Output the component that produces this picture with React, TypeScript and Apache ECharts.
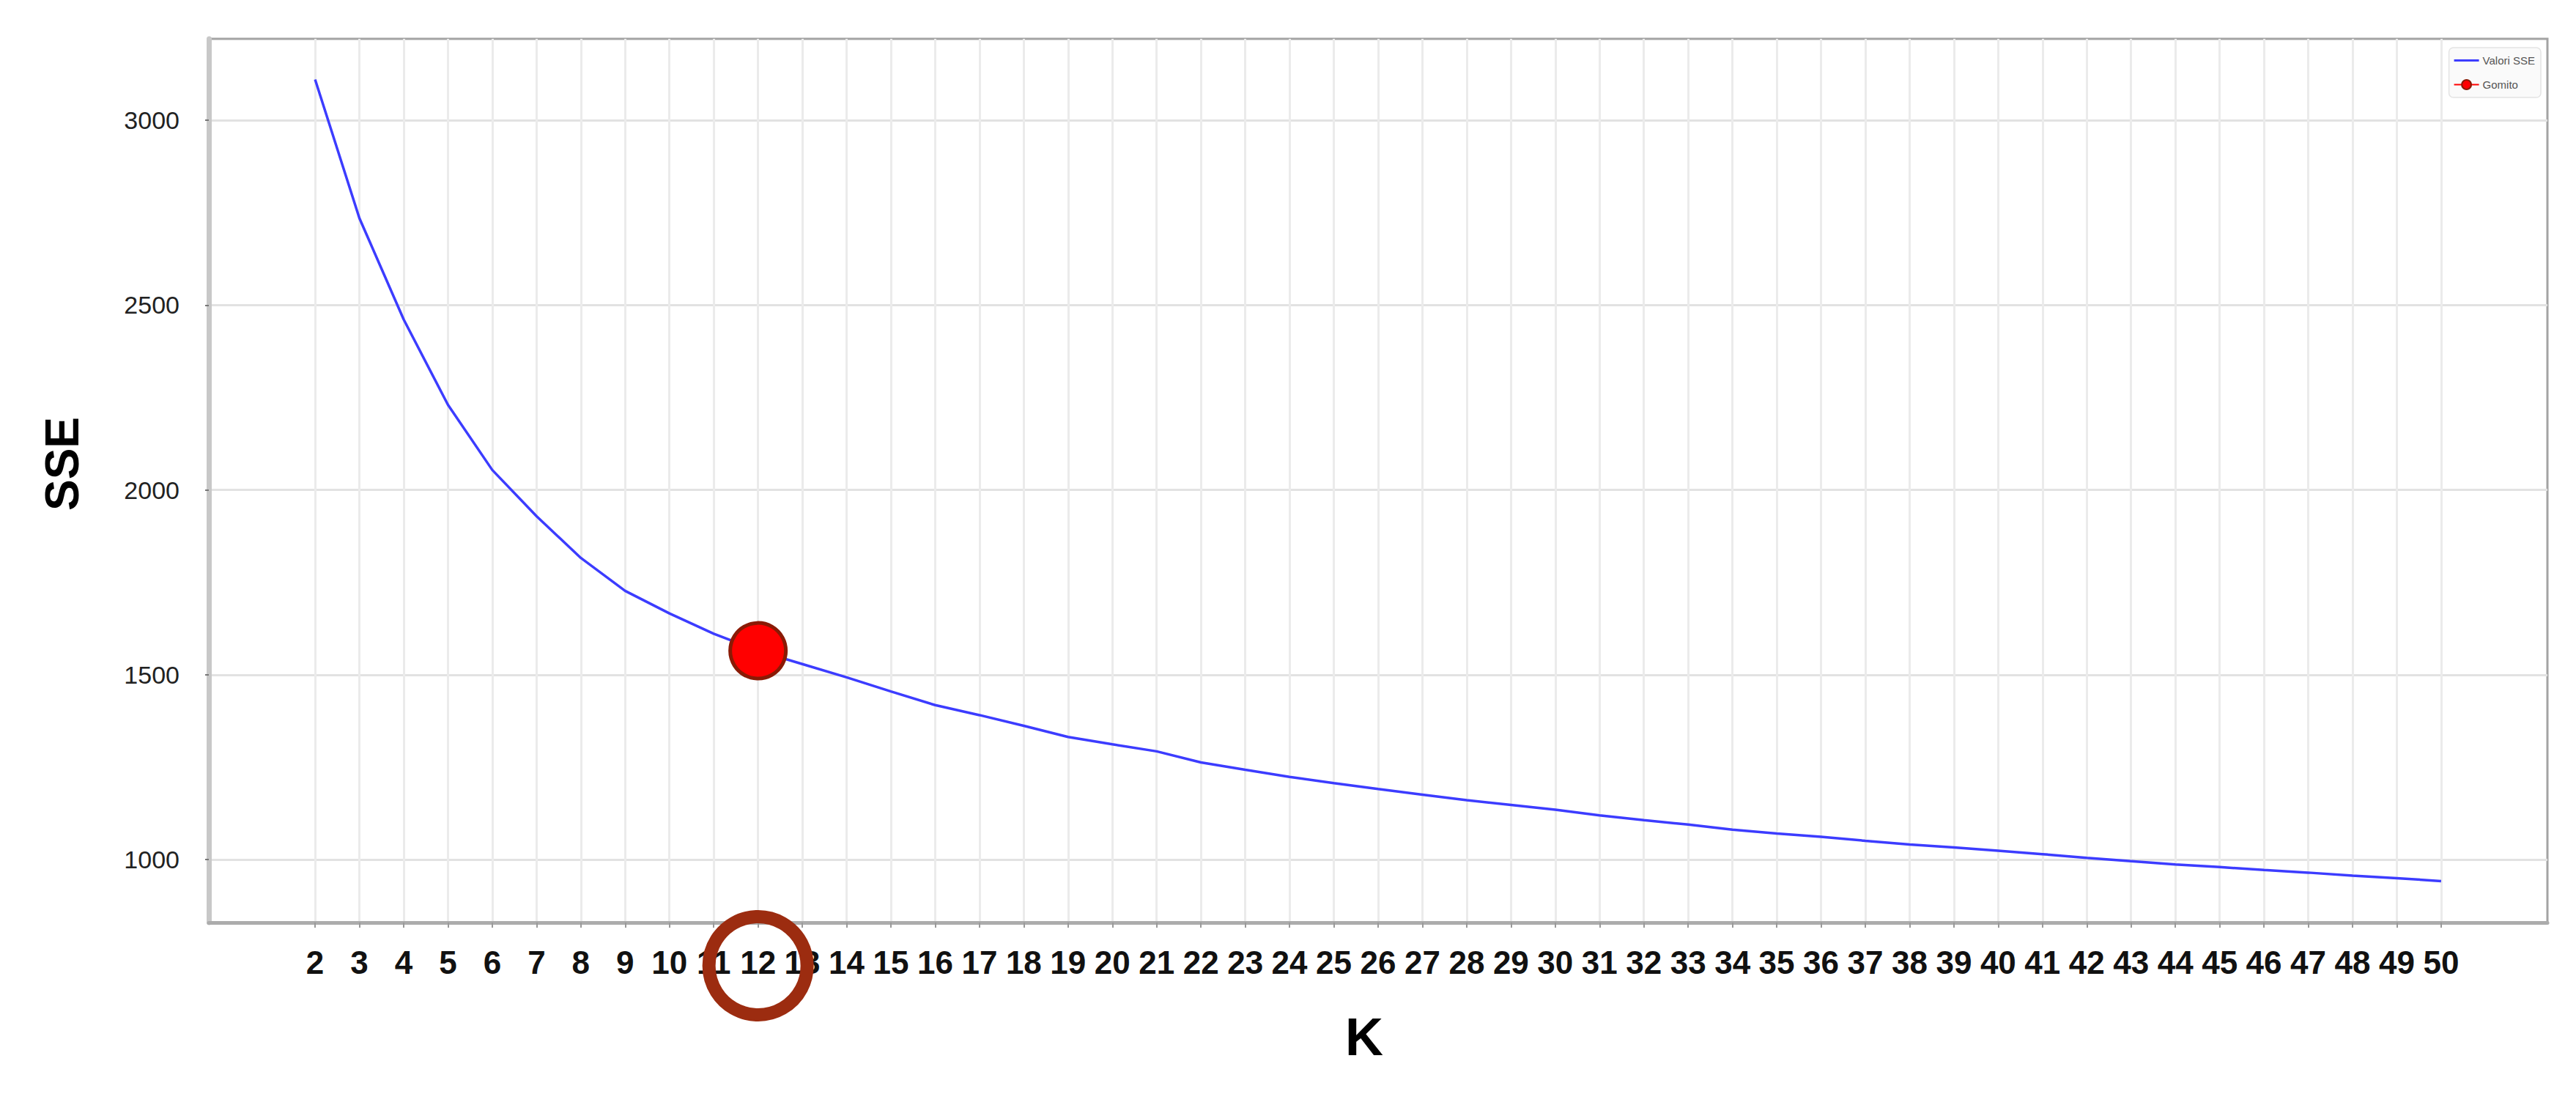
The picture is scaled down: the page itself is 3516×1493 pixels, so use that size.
import React, { useEffect, useRef } from "react";
import * as echarts from "echarts";

const kValues = [2, 3, 4, 5, 6, 7, 8, 9, 10, 11, 12, 13, 14, 15, 16, 17, 18, 19, 20, 21, 22, 23, 24, 25, 26, 27, 28, 29, 30, 31, 32, 33, 34, 35, 36, 37, 38, 39, 40, 41, 42, 43, 44, 45, 46, 47, 48, 49, 50];
const sseValues = [3110, 2735, 2461, 2230, 2054, 1929, 1816, 1727, 1666, 1611, 1565, 1529, 1493, 1455, 1418, 1391, 1362, 1332, 1312, 1293, 1263, 1243, 1224, 1207, 1191, 1176, 1161, 1148, 1135, 1120, 1107, 1095, 1081, 1071, 1062, 1051, 1041, 1033, 1024, 1015, 1005, 996, 987, 980, 972, 965, 957, 950, 942];
const yTicks = [1000, 1500, 2000, 2500, 3000];
const elbowK = 12;
const seriesNames = ["Valori SSE", "Gomito"];
const yMin = 830;
const yMax = 3220;
const xMin = -0.4;
const xMax = 52.4;

const boldFont = "'Liberation Sans', Arial, sans-serif";

export default function App() {
  const ref = useRef<HTMLDivElement>(null);
  useEffect(() => {
    document.body.style.margin = "0";
    if (!ref.current) return;
    const chart = echarts.init(ref.current, null, { renderer: "svg" });
    const lineData = kValues.map((k, i) => [k, sseValues[i]]);
    const elbowData = [[elbowK, sseValues[kValues.indexOf(elbowK)]]];
    chart.setOption({
      animation: false,
      backgroundColor: "#ffffff",
      grid: {
        left: 285,
        top: 53,
        right: 39,
        bottom: 234,
        show: true,
        borderColor: "#a3a3a3",
        borderWidth: 3,
        backgroundColor: "#ffffff",
      },
      legend: {
        orient: "vertical",
        right: 48,
        top: 65,
        data: [
          { name: seriesNames[0], icon: "path://M0,0 L34,0 L34,3 L0,3 Z" },
          { name: seriesNames[1] },
        ],
        itemWidth: 34,
        itemHeight: 16,
        itemGap: 18,
        padding: [10, 8, 10, 6],
        borderColor: "#e4e4e4",
        borderWidth: 1.5,
        borderRadius: 6,
        backgroundColor: "rgba(250,250,250,0.95)",
        textStyle: { fontFamily: "Liberation Sans", fontSize: 15, color: "#555" },
      },
      xAxis: {
        type: "value",
        min: xMin,
        max: xMax,
        name: "K",
        nameLocation: "middle",
        nameGap: 120,
        nameTextStyle: {
          fontFamily: boldFont,
          fontWeight: "bold",
          fontSize: 72,
          color: "#000",
          padding: [0, 38, 0, 0],
        },
        axisLine: { show: true, onZero: false, lineStyle: { color: "#acacac", width: 5 } },
        axisTick: { show: true, customValues: kValues, length: 7, lineStyle: { color: "#9a9a9a", width: 2 } },
        axisLabel: {
          customValues: kValues,
          margin: 32,
          fontFamily: boldFont,
          fontWeight: "bold",
          fontSize: 44,
          color: "#111",
        },
        splitLine: { show: true, lineStyle: { color: "#ebebeb", width: 3 } },
      },
      yAxis: {
        type: "value",
        min: yMin,
        max: yMax,
        name: "SSE",
        nameLocation: "middle",
        nameRotate: 90,
        nameGap: 168,
        nameTextStyle: {
          fontFamily: boldFont,
          fontWeight: "bold",
          fontSize: 64,
          color: "#000",
          padding: [0, 0, 0, 46],
        },
        axisLine: { show: true, onZero: false, lineStyle: { color: "#c8c8c8", width: 7 } },
        axisTick: { show: true, customValues: yTicks, length: 5, lineStyle: { color: "#777", width: 2 } },
        axisLabel: {
          customValues: yTicks,
          margin: 40,
          fontFamily: "Liberation Sans",
          fontSize: 34,
          color: "#222",
          formatter: (v: number) => String(v),
        },
        splitLine: { show: true, lineStyle: { color: "#e2e2e2", width: 3 } },
      },
      series: [
        {
          name: seriesNames[0],
          type: "line",
          data: lineData,
          symbol: "none",
          lineStyle: { color: "#3c3cff", width: 3.5 },
          itemStyle: { color: "#3c3cff" },
          z: 2,
        },
        {
          name: seriesNames[1],
          type: "line",
          data: elbowData,
          symbol: "circle",
          symbolSize: 76,
          lineStyle: { color: "#ff0000", width: 4 },
          itemStyle: { color: "#ff0000", borderColor: "#8a1a05", borderWidth: 5 },
          z: 3,
        },
      ],
    });
    const cx = chart.convertToPixel({ xAxisIndex: 0 }, elbowK) as number;
    const axisY = chart.convertToPixel({ yAxisIndex: 0 }, yMin) as number;
    chart.setOption({
      graphic: [
        {
          type: "circle",
          shape: { cx, cy: axisY + 59, r: 67 },
          style: { fill: "none", stroke: "#9c2c10", lineWidth: 18 },
          z: 100,
        },
      ],
    });
    return () => chart.dispose();
  }, []);
  return <div ref={ref} style={{ width: 3516, height: 1493 }} />;
}
